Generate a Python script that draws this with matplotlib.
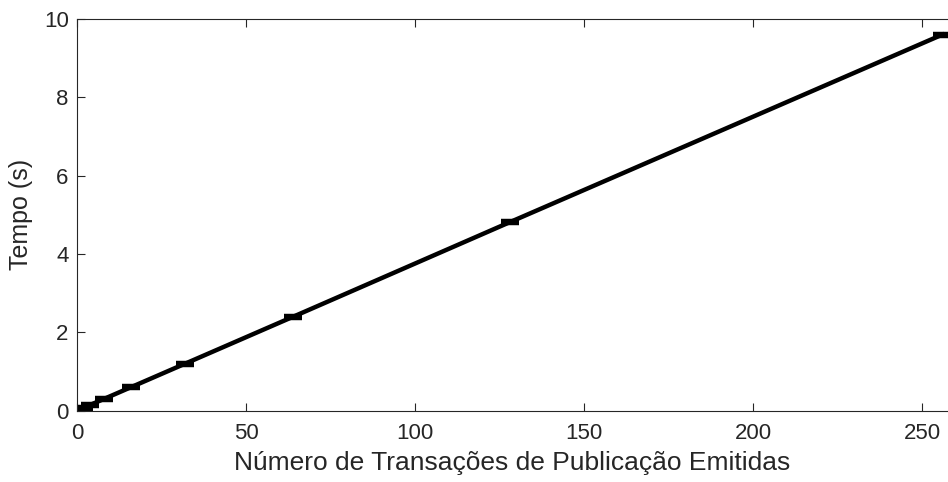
import matplotlib
matplotlib.use("Agg")
import matplotlib.pyplot as plt

# number of publish transactions vs time (s)
transacoes = [1, 2, 4, 8, 16, 32, 64, 128, 256]
tempo = [0.04, 0.08, 0.15, 0.30, 0.60, 1.20, 2.40, 4.81, 9.60]
erro = [0.025, 0.025, 0.025, 0.025, 0.025, 0.025, 0.025, 0.025, 0.025]

x_ticks = [0, 50, 100, 150, 200, 250]
y_ticks = [0, 2, 4, 6, 8, 10]

plt.rcParams['font.family'] = ['Liberation Sans', 'DejaVu Sans']

fig = plt.figure(figsize=(9.48, 4.82), dpi=100)
ax = fig.add_axes([0.0812, 0.148, 0.9188, 0.8126])

ax.errorbar(transacoes, tempo, yerr=erro, color='black', linewidth=3.2,
            elinewidth=3.2, capsize=6.5, capthick=3.2)

ax.set_xlim(0, 257.7)
ax.set_ylim(0, 10)
ax.set_xticks(x_ticks)
ax.set_yticks(y_ticks)
ax.tick_params(direction='in', length=6, width=0.8, color='#262626',
               labelsize=16, labelcolor='#262626', top=True, right=False)
ax.tick_params(axis='y', pad=6)
ax.tick_params(axis='x', pad=9)
for s in ax.spines.values():
    s.set_color('#262626')
    s.set_linewidth(0.8)
ax.spines['right'].set_visible(False)

ax.set_xlabel("Número de Transações de Publicação Emitidas", fontsize=19, color='#262626', labelpad=5)
ax.set_ylabel("Tempo (s)", fontsize=18, color='#262626', labelpad=8)

fig.savefig("out.png", dpi=100)
